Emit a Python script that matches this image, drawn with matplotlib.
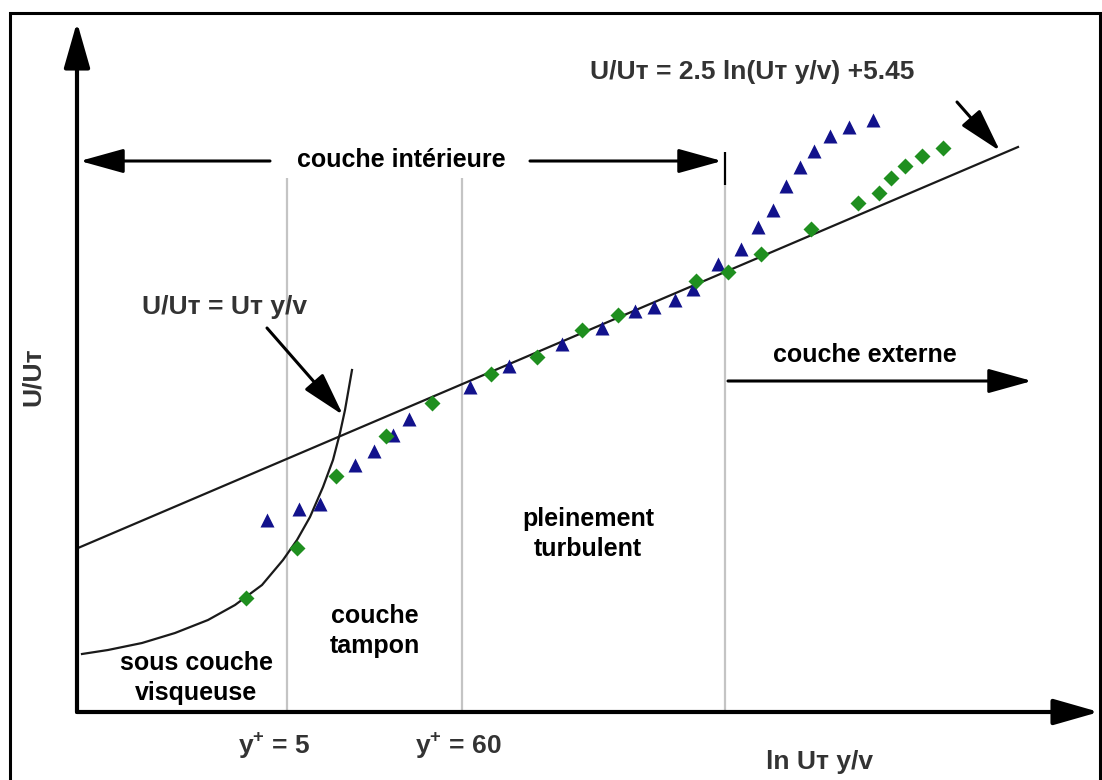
import matplotlib
matplotlib.use('Agg')
import matplotlib.pyplot as plt
from matplotlib.patches import Rectangle

plt.rcParams['font.family'] = ['Liberation Sans', 'DejaVu Sans']
plt.rcParams['mathtext.fontset'] = 'custom'
plt.rcParams['mathtext.rm'] = 'Liberation Sans:bold'
plt.rcParams['mathtext.bf'] = 'Liberation Sans:bold'

# schematic units: ln(U_tau y / nu) on x, U/U_tau on y
loglaw_x = [0.1, 94.1]
loglaw_y = [16.4, 56.5]

visc_x = [0.5, 3.1, 6.5, 9.8, 13.1, 15.8, 18.5, 20.6, 22.0, 23.3, 24.6, 25.6, 26.3, 26.8, 27.5]
visc_y = [5.8, 6.2, 6.9, 7.9, 9.2, 10.7, 12.7, 15.2, 17.2, 19.5, 22.5, 25.2, 27.9, 30.2, 34.2]

tri_x = [19.0, 22.2, 24.3, 27.8, 29.7, 31.6, 33.2, 39.3, 43.2, 48.5, 52.5, 55.8, 57.7,
         59.8, 61.6, 64.1, 66.4, 68.1, 69.6, 70.9, 72.3, 73.7, 75.3, 77.2, 79.6]
tri_y = [19.2, 20.3, 20.8, 24.7, 26.1, 27.7, 29.3, 32.5, 34.6, 36.8, 38.4, 40.1, 40.5,
         41.2, 42.3, 44.8, 46.3, 48.5, 50.2, 52.6, 54.5, 56.1, 57.6, 58.5, 59.2]

dia_x = [16.9, 22.0, 25.9, 30.9, 35.5, 41.4, 46.0, 50.5, 54.1, 61.9, 65.1, 68.4,
         73.4, 78.1, 80.2, 81.4, 82.8, 84.5, 86.6]
dia_y = [11.4, 16.4, 23.6, 27.6, 30.9, 33.8, 35.5, 38.2, 39.7, 43.1, 44.0, 45.8,
         48.3, 50.9, 51.9, 53.4, 54.6, 55.6, 56.4]

# region limits y+ = 5, y+ = 60, edge of inner layer
bounds = [21.0, 38.5, 64.8]
bound_labels = [r'y$^{\mathbf{+}}$ = 5', r'y$^{\mathbf{+}}$ = 60', '']


def arrow(ax, start, end, lw=2.2, hl=27, hw=7.5):
    ax.annotate('', xy=end, xytext=start,
                arrowprops=dict(arrowstyle=f'-|>,head_length={hl},head_width={hw}',
                                mutation_scale=1, lw=lw, color='black',
                                shrinkA=0, shrinkB=0))


def main():
    fig = plt.figure(figsize=(11.02, 7.80), dpi=100)
    ax = fig.add_axes([0, 0, 1, 1])
    ax.set_xlim(-7.7, 102.5)
    ax.set_ylim(-6.8, 71.2)
    ax.set_axis_off()

    fig.add_artist(Rectangle((10/1102, -0.05), 1090/1102, 1.05 - 13/780,
                             transform=fig.transFigure, fill=False,
                             lw=2.2, ec='black'))

    # region boundaries
    ax.vlines(bounds[:2], 0, 53.4, color='#c4c4c4', lw=1.6)
    ax.vlines(bounds[2], 0, 52.7, color='#c4c4c4', lw=1.6)
    ax.vlines(bounds[2], 52.7, 56.0, color='black', lw=1.6)

    ax.plot(loglaw_x, loglaw_y, color='#1a1a1a', lw=1.6)
    ax.plot(visc_x, visc_y, color='#1a1a1a', lw=1.6, solid_joinstyle='round')

    ax.plot(tri_x, tri_y, '^', color='#12128c', ms=10, mec='none')
    ax.plot(dia_x, dia_y, 'D', color='#1f8f1f', ms=8, mec='none')

    # axes drawn as arrows
    arrow(ax, (0, 0), (0, 69.0), lw=3.0, hl=28, hw=8)
    arrow(ax, (0, 0), (102.2, 0), lw=3.0, hl=28, hw=8)

    arrow(ax, (19.3, 55.1), (0.3, 55.1))
    arrow(ax, (45.3, 55.1), (64.5, 55.1))
    arrow(ax, (65.1, 33.1), (95.5, 33.1))
    arrow(ax, (19.0, 38.4), (26.6, 29.7))
    arrow(ax, (88.0, 61.0), (92.3, 56.1))

    txt = dict(fontsize=18, fontweight='bold', ha='center', va='center')
    ax.text(32.4, 55.2, 'couche intérieure', **txt)
    ax.text(78.8, 35.7, 'couche externe', **txt)
    ax.text(51.1, 17.8, 'pleinement\nturbulent', linespacing=1.3, **txt)
    ax.text(29.8, 8.1, 'couche\ntampon', linespacing=1.3, **txt)
    ax.text(11.9, 3.4, 'sous couche\nvisqueuse', linespacing=1.3, **txt)

    gray = dict(fontsize=19, fontweight='bold', ha='center', va='center', color='#333333')
    ax.text(67.5, 64.0, 'U/Uт = 2.5 ln(Uт y/v) +5.45', **gray)
    ax.text(14.8, 40.5, 'U/Uт = Uт y/v', **gray)
    for bx, lab in zip(bounds, bound_labels):
        if lab:
            ax.text(bx - 1.3 if bx < 30 else bx - 0.4, -3.3, lab, **gray)
    ax.text(74.3, -5.0, 'ln Uт y/v', **gray)
    ax.text(-4.4, 33.5, 'U/Uт', rotation=90, **gray)

    fig.savefig('out.png', dpi=100)


if __name__ == '__main__':
    main()
